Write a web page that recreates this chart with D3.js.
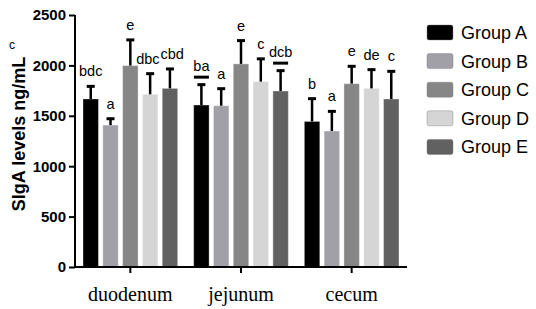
<!DOCTYPE html>
<html>
<head>
<meta charset="utf-8">
<script src="https://cdn.jsdelivr.net/npm/d3@7"></script>
<style>
  body { margin: 0; background: #fff; }
  svg { display: block; }
</style>
</head>
<body>
<svg id="chart" width="536" height="309"></svg>
<script>
// sites on the x axis, groups within each site
var sites = ["duodenum", "jejunum", "cecum"];
var groups = ["Group A", "Group B", "Group C", "Group D", "Group E"];
var colors = ["#000000", "#a0a0a6", "#868686", "#d5d5d5", "#616161"];

// mean values, one row per site (A..E)
var means = [
	[1667, 1408, 1998, 1713, 1772],
	[1607, 1600, 2015, 1839, 1746],
	[1444, 1349, 1819, 1772, 1667]
];
// top of each error bar
var errTops = [
	[1792, 1471, 2253, 1918, 1965],
	[1809, 1769, 2246, 2065, 1948],
	[1670, 1544, 1991, 1958, 1941]
];
// significance letters
var letters = [
	["bdc", "a", "e", "dbc", "cbd"],
	["ba", "a", "e", "c", "dcb"],
	["b", "a", "e", "de", "c"]
];
var underlined = [
	[false, false, false, false, false],
	[true, false, false, false, true],
	[false, false, false, false, false]
];
var yTicks = [0, 500, 1000, 1500, 2000, 2500];

var svg = d3.select("#chart"),
	margin = {top: 15, left: 75, right: 129, bottom: 42},
	width = +svg.attr("width"),
	height = +svg.attr("height");

var x0 = d3.scaleBand()
	.domain(sites)
	.range([margin.left, width - margin.right]);
var x1 = d3.scaleBand()
	.domain(groups)
	.range([8, x0.bandwidth() - 8])
	.paddingInner(0.22);
var y = d3.scaleLinear()
	.domain([0, 2500])
	.range([height - margin.bottom, margin.top]);

var rows = [];
sites.forEach(function(s, i) {
	groups.forEach(function(g, j) {
		rows.push({
			site: s, group: g, color: colors[j],
			value: means[i][j], err: errTops[i][j],
			label: letters[i][j], line: underlined[i][j]
		});
	});
});

var g = svg.append("g");

// bars
g.selectAll("rect.bar").data(rows).enter()
	.append("rect")
	.attr("class", "bar")
	.attr("x", function(d) { return x0(d.site) + x1(d.group); })
	.attr("y", function(d) { return y(d.value); })
	.attr("width", x1.bandwidth())
	.attr("height", function(d) { return y(0) - y(d.value); })
	.attr("fill", function(d) { return d.color; })
	.attr("stroke", "#ffffff")
	.attr("stroke-opacity", 0.35)
	.attr("stroke-width", 1);

// error bars
var cx = function(d) { return x0(d.site) + x1(d.group) + x1.bandwidth() / 2; };
g.selectAll("line.err").data(rows).enter()
	.append("line")
	.attr("class", "err")
	.attr("x1", cx).attr("x2", cx)
	.attr("y1", function(d) { return y(d.value); })
	.attr("y2", function(d) { return y(d.err); })
	.attr("stroke", "#000").attr("stroke-width", 2.5);
g.selectAll("line.cap").data(rows).enter()
	.append("line")
	.attr("class", "cap")
	.attr("x1", function(d) { return cx(d) - 4; })
	.attr("x2", function(d) { return cx(d) + 4; })
	.attr("y1", function(d) { return y(d.err); })
	.attr("y2", function(d) { return y(d.err); })
	.attr("stroke", "#000").attr("stroke-width", 3);

// letters
var sig = g.selectAll("text.sig").data(rows).enter()
	.append("text")
	.attr("class", "sig")
	.attr("x", cx)
	.attr("y", function(d) { return y(d.err) - (d.line ? 14 : 10); })
	.attr("text-anchor", "middle")
	.attr("font-family", "Liberation Sans, Arial, sans-serif")
	.attr("font-size", 14.5)
	.attr("fill", "#000")
	.text(function(d) { return d.label; });

// push neighbouring letters apart when they collide
var nodes = sig.nodes();
for (var k = 1; k < nodes.length; ++k) {
	if (rows[k].site != rows[k - 1].site) continue;
	var a = nodes[k - 1].getBBox(), b = nodes[k].getBBox();
	var over = a.x + a.width + 1 - b.x;
	if (over > 0) {
		d3.select(nodes[k - 1]).attr("x", +nodes[k - 1].getAttribute("x") - over / 2);
		d3.select(nodes[k]).attr("x", +nodes[k].getAttribute("x") + over / 2);
	}
}

g.selectAll("line.ul").data(rows.filter(function(d) { return d.line; })).enter()
	.append("line")
	.attr("class", "ul")
	.attr("x1", function(d) { return cx(d) - 7.5; })
	.attr("x2", function(d) { return cx(d) + 7.5; })
	.attr("y1", function(d) { return y(d.err) - 7.5; })
	.attr("y2", function(d) { return y(d.err) - 7.5; })
	.attr("stroke", "#000").attr("stroke-width", 3);

// y axis
var yAxis = svg.append("g")
	.attr("transform", "translate(" + margin.left + ",0)")
	.call(d3.axisLeft(y).tickValues(yTicks).tickSize(6).tickPadding(3).tickFormat(d3.format("d")));
yAxis.select(".domain").attr("stroke-width", 2).attr("d", "M0," + y(0) + "V" + y(2500));
yAxis.selectAll(".tick line").attr("stroke-width", 2);
yAxis.selectAll(".tick text")
	.attr("font-family", "Liberation Sans, Arial, sans-serif")
	.attr("font-weight", "bold")
	.attr("font-size", 15)
	.attr("fill", "#000");

// x axis
var xAxis = svg.append("g")
	.attr("transform", "translate(0," + y(0) + ")")
	.call(d3.axisBottom(x0).tickSize(6).tickPadding(14));
xAxis.select(".domain").attr("stroke-width", 2).attr("d", "M" + margin.left + ",0H" + (width - margin.right));
xAxis.selectAll(".tick line").attr("stroke-width", 2);
xAxis.selectAll(".tick text")
	.attr("font-family", "Liberation Serif, Times New Roman, serif")
	.attr("font-size", 20)
	.attr("fill", "#000");

// y label
svg.append("text")
	.attr("transform", "translate(25," + 134 + ") rotate(-90)")
	.attr("text-anchor", "middle")
	.attr("font-family", "Liberation Sans, Arial, sans-serif")
	.attr("font-weight", "bold")
	.attr("font-size", 18)
	.text("SIgA levels ng/mL");
svg.append("text")
	.attr("x", 12).attr("y", 49)
	.attr("text-anchor", "middle")
	.attr("font-family", "Liberation Sans, Arial, sans-serif")
	.attr("font-size", 12)
	.text("c");

// legend
var legend = svg.append("g").attr("transform", "translate(427,25)");
var item = legend.selectAll("g").data(groups).enter()
	.append("g")
	.attr("transform", function(d, i) { return "translate(0," + i * 28.6 + ")"; });
item.append("rect")
	.attr("width", 26).attr("height", 15)
	.attr("rx", 2)
	.attr("fill", function(d, i) { return colors[i]; })
	.attr("stroke", "#777").attr("stroke-opacity", 0.4);
item.append("text")
	.attr("x", 34).attr("y", 14)
	.attr("font-family", "Liberation Sans, Arial, sans-serif")
	.attr("font-size", 18)
	.attr("fill", "#000")
	.text(function(d) { return d; });
</script>
</body>
</html>
